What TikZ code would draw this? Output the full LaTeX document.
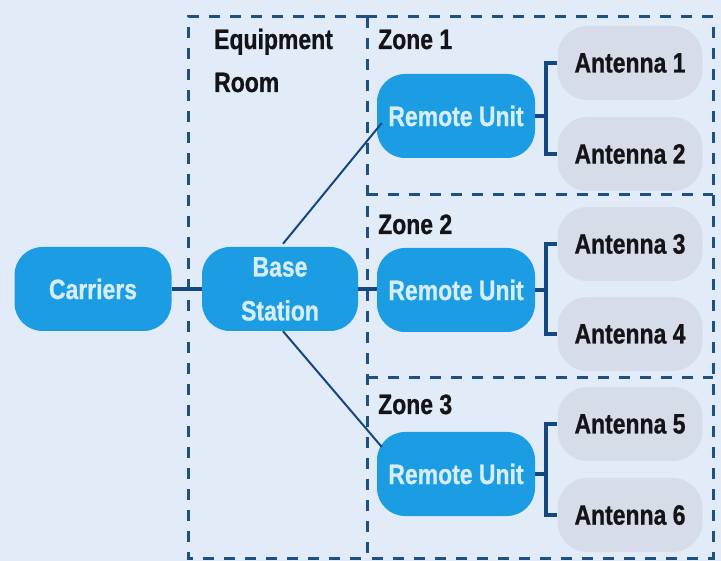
\documentclass[tikz,border=0pt]{standalone}
\usepackage{fontspec}
\setmainfont{Liberation Sans}[FakeStretch=0.82,BoldFeatures={FakeBold=0.8}]
\usetikzlibrary{calc}
\definecolor{bg}{RGB}{226,236,248}
\definecolor{ublue}{RGB}{28,156,226}
\definecolor{ugray}{RGB}{214,221,232}
\definecolor{navy}{RGB}{22,72,128}
\definecolor{dashc}{RGB}{30,80,130}
\definecolor{ltxt}{RGB}{214,238,252}
\definecolor{dtxt}{RGB}{20,20,24}
\begin{document}
\begin{tikzpicture}[x=1pt,y=-1pt,
  txtfont/.style={font=\bfseries\fontsize{28}{44}\selectfont},
  bluebox/.style={fill=ublue, rounded corners=28pt, minimum width=157pt, minimum height=84pt, text=ltxt, txtfont, align=center, inner sep=0pt},
  antbox/.style={fill=ugray, rounded corners=30pt, minimum width=145pt, minimum height=74pt, text=dtxt, txtfont, inner sep=0pt},
  zone/.style={draw=dashc, line width=3pt, dash pattern=on 11pt off 10pt},
  lbl/.style={anchor=base west, txtfont, text=dtxt, inner sep=0pt},
  thickln/.style={draw=navy, line width=4pt, line join=miter},
  thinln/.style={draw=navy, line width=2pt}]
\fill[bg] (0,0) rectangle (721,561);
\useasboundingbox (0,0) rectangle (721,561);
% dashed regions
\draw[zone] (367,17) -- (188,17) -- (188,558) -- (367,558);
\draw[zone] (367,17) rectangle (713,558);
\draw[zone] (367,195) -- (713,195);
\draw[zone] (367,378) -- (713,378);
% labels
\node[lbl] (eq) at (214,49) {Equipment};
\node[lbl] (room) at (214,92) {Room};
\node[lbl] (z1) at (378,49) {Zone 1};
\node[lbl] (z2) at (378,234) {Zone 2};
\node[lbl] (z3) at (378,414) {Zone 3};
% nodes
\node[bluebox] (car) at (93,289) {Carriers};
\node[bluebox, minimum width=156pt] (bs) at (280,289) {Base\\Station};
\node[bluebox, minimum width=158pt] (ru1) at (456,116) {Remote Unit};
\node[bluebox, minimum width=158pt] (ru2) at (456,290) {Remote Unit};
\node[bluebox, minimum width=158pt] (ru3) at (456,474) {Remote Unit};
\node[antbox] (a1) at (630,63) {Antenna 1};
\node[antbox] (a2) at (630,154) {Antenna 2};
\node[antbox] (a3) at (630,244) {Antenna 3};
\node[antbox] (a4) at (630,334) {Antenna 4};
\node[antbox] (a5) at (630,424) {Antenna 5};
\node[antbox] (a6) at (630,515) {Antenna 6};
% connectors
\draw[thickln] (car.east) -- (bs.west);
\draw[thickln] (bs.east) -- (bs.east -| ru2.west);
\draw[thinln] ($(bs.north)+(3,-3)$) -- ($(ru1.west)+(5,7)$);
\draw[thinln] ($(bs.south)+(3,0)$) -- ($(ru3.west)+(5,-27)$);
% brackets
\draw[thickln] (ru1.east) -- ++(12,0);
\draw[thickln] (a1.west) -- ++(-11,0) |- (a2.west);
\draw[thickln] (ru2.east) -- ++(12,0);
\draw[thickln] (a3.west) -- ++(-11,0) |- (a4.west);
\draw[thickln] (ru3.east) -- ++(12,0);
\draw[thickln] (a5.west) -- ++(-11,0) |- (a6.west);
\end{tikzpicture}
\end{document}
